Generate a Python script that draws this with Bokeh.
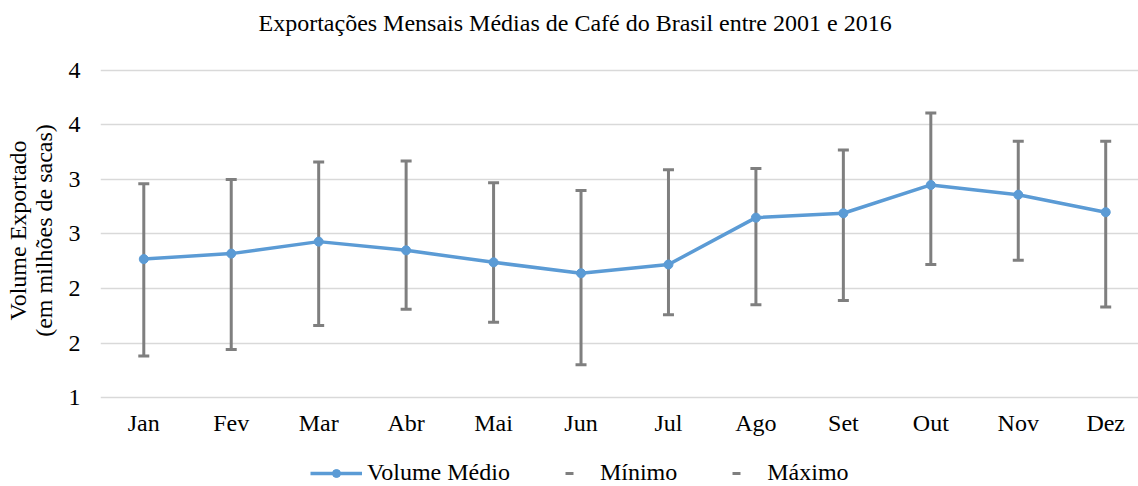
from bokeh.plotting import figure
from bokeh.models import FixedTicker, Legend, LegendItem, Range1d, Label
from bokeh.layouts import column
from bokeh.embed import file_html
from bokeh.resources import INLINE

months = ["Jan", "Fev", "Mar", "Abr", "Mai", "Jun", "Jul", "Ago", "Set", "Out", "Nov", "Dez"]
media = [2.27, 2.32, 2.43, 2.35, 2.24, 2.14, 2.22, 2.65, 2.69, 2.95, 2.86, 2.70]
minimo = [1.38, 1.44, 1.66, 1.81, 1.69, 1.30, 1.76, 1.85, 1.89, 2.22, 2.26, 1.83]
maximo = [2.96, 3.00, 3.16, 3.17, 2.97, 2.90, 3.09, 3.10, 3.27, 3.61, 3.35, 3.35]
y_ticks = [1, 1.5, 2, 2.5, 3, 3.5, 4]
y_tick_labels = ["1", "2", "2", "3", "3", "4", "4"]
title_text = "Exportações Mensais Médias de Café do Brasil entre 2001 e 2016"
y_label = "Volume Exportado\n(em milhões de sacas)"

FONT = "Liberation Serif"
GRAY = "#7f7f7f"
BLUE = "#5b9bd5"
x = list(range(len(months)))

W = 1138
H0 = 46    # title strip
H1 = 400   # chart (14 px top border + 340 px plot area + 46 px x axis)
H2 = 40    # legend strip


def strip(height):
    f = figure(width=W, height=height, output_backend="svg", toolbar_location=None,
               x_range=Range1d(100, 101), y_range=Range1d(100, 101),
               x_axis_type=None, y_axis_type=None,
               min_border_left=0, min_border_right=0, min_border_top=0, min_border_bottom=0)
    f.title.visible = False
    f.outline_line_color = None
    f.xgrid.grid_line_color = None
    f.ygrid.grid_line_color = None
    return f


# ---- title strip
t = strip(H0)
t.add_layout(Label(x=158, y=H0 - 22, x_units="screen", y_units="screen", text=title_text,
                   text_font=FONT, text_font_size="24px", text_color="#000000",
                   text_align="left", text_baseline="middle"))

# ---- chart
p = figure(width=W, height=H1, output_backend="svg", toolbar_location=None,
           x_range=Range1d(-0.495, 11.375), y_range=Range1d(0.9725, 4.0917),
           min_border_left=100, min_border_right=0, min_border_top=14,
           min_border_bottom=46)
p.title.visible = False
p.outline_line_color = None

p.segment(x0=x, y0=minimo, x1=x, y1=maximo, line_color=GRAY, line_width=3)
p.scatter(x, minimo, marker="dash", size=11, line_color=GRAY, line_width=3)
p.scatter(x, maximo, marker="dash", size=11, line_color=GRAY, line_width=3)

p.line(x, media, line_color=BLUE, line_width=3.5)
p.scatter(x, media, marker="circle", size=9, fill_color=BLUE, line_color=BLUE)

p.xaxis.ticker = FixedTicker(ticks=x)
p.xaxis.major_label_overrides = {i: m for i, m in zip(x, months)}
p.yaxis.ticker = FixedTicker(ticks=y_ticks)
p.yaxis.major_label_overrides = {tk: lb for tk, lb in zip(y_ticks, y_tick_labels)}
for ax in (p.xaxis[0], p.yaxis[0]):
    ax.axis_line_color = None
    ax.major_tick_line_color = None
    ax.minor_tick_line_color = None
    ax.major_label_text_font = FONT
    ax.major_label_text_font_size = "24px"
    ax.major_label_text_color = "#000000"
p.xaxis.major_label_standoff = 3
p.yaxis.major_label_standoff = 14
p.yaxis.axis_label = y_label
p.yaxis.axis_label_text_font = FONT
p.yaxis.axis_label_text_font_size = "24px"
p.yaxis.axis_label_text_font_style = "normal"
p.yaxis.axis_label_text_color = "#000000"
p.yaxis.axis_label_text_line_height = 1.0
p.yaxis.axis_label_standoff = 9

p.xgrid.grid_line_color = None
p.ygrid.grid_line_color = "#d9d9d9"
p.ygrid.grid_line_width = 1.5

# ---- legend strip: same series, drawn outside its visible range so only the legend shows
q = strip(H2)
l_line = q.line(x, media, line_color=BLUE, line_width=3.5)
l_dots = q.scatter(x, media, marker="circle", size=9, fill_color=BLUE, line_color=BLUE)
l_min = q.scatter(x, minimo, marker="dash", size=9, line_color=GRAY, line_width=3)
l_max = q.scatter(x, maximo, marker="dash", size=9, line_color=GRAY, line_width=3)

legend = Legend(items=[LegendItem(label="Volume Médio", renderers=[l_line, l_dots]),
                       LegendItem(label="Mínimo", renderers=[l_min]),
                       LegendItem(label="Máximo", renderers=[l_max])],
                orientation="horizontal", location=(210, 0),
                label_text_font=FONT, label_text_font_size="24px",
                label_text_color="#000000", glyph_width=52, glyph_height=20,
                label_standoff=5, spacing=33, border_line_color=None,
                background_fill_alpha=0, margin=0, padding=0)
q.add_layout(legend, "center")

layout = column(t, p, q, spacing=0)
open("out.html", "w").write(file_html(layout, INLINE))
